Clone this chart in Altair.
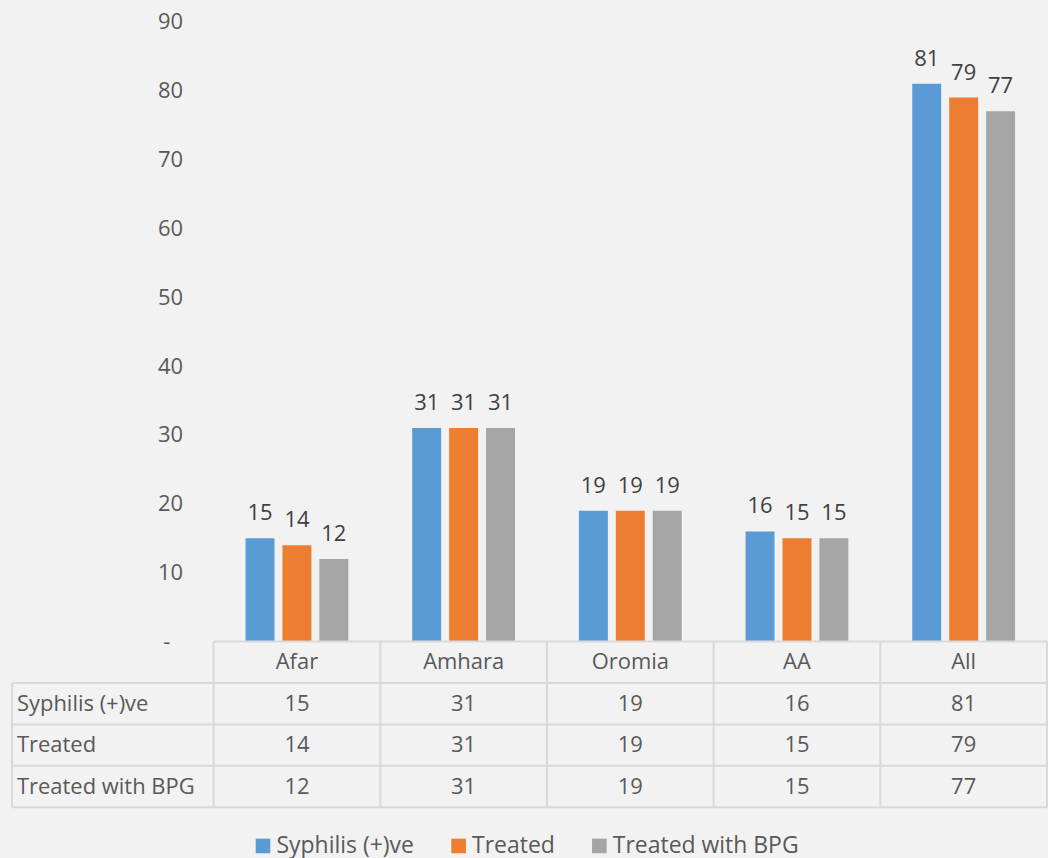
import altair as alt
import pandas as pd

categories = ["Afar", "Amhara", "Oromia", "AA", "All"]
series = ["Syphilis (+)ve", "Treated", "Treated with BPG"]
syphilis = [15, 31, 19, 16, 81]
treated = [14, 31, 19, 15, 79]
treated_bpg = [12, 31, 19, 15, 77]
colors = ["#5B9BD5", "#ED7D31", "#A5A5A5"]
y_ticks = [10, 20, 30, 40, 50, 60, 70, 80, 90]
zero_label = "-"

FONT = "Open Sans"
TXT = "#595959"
GRID = "#D9D9D9"

rows = []
for s, vals in zip(series, [syphilis, treated, treated_bpg]):
    for c, v in zip(categories, vals):
        rows.append({"category": c, "row": s, "value": v})
df = pd.DataFrame(rows)

header_df = pd.DataFrame({"category": categories, "row": ["header"] * len(categories)})
rowlab_df = pd.DataFrame({"row": series})
last_row_df = pd.DataFrame({"row": series[-1:]})
first_row_df = pd.DataFrame({"row": series[:1]})
top_df = pd.DataFrame({"row": ["header"]})
cat_df = pd.DataFrame({"category": categories})
end_df = pd.DataFrame({"category": categories[-1:]})
zero_df = pd.DataFrame({"value": [0], "label": [zero_label]})

x_scale = alt.Scale(domain=categories, paddingInner=0, paddingOuter=0)
row_scale = alt.Scale(domain=["header"] + series, paddingInner=0, paddingOuter=0)
color_scale = alt.Scale(domain=series, range=colors)
xoff_scale = alt.Scale(domain=series, paddingInner=0.216, paddingOuter=0.865)
y_scale = alt.Scale(domain=[0, 90], nice=False)

X = alt.X("category:N", scale=x_scale, axis=None)

bars = alt.Chart(df).mark_bar().encode(
    x=X,
    xOffset=alt.XOffset("row:N", scale=xoff_scale),
    y=alt.Y("value:Q", scale=y_scale,
            axis=alt.Axis(values=y_ticks, title=None, ticks=False, domain=False, grid=False,
                          labelPadding=31, labelFontSize=22, labelColor=TXT, labelFont=FONT)),
    color=alt.Color("row:N", scale=color_scale,
                    legend=alt.Legend(orient="none", legendX=38, legendY=814, direction="horizontal",
                                      title=None, symbolType="square", symbolSize=215,
                                      symbolStrokeWidth=0, labelFontSize=23, labelFont=FONT,
                                      labelColor=TXT, columnPadding=33, labelOffset=2,
                                      labelLimit=400)),
)
bar_labels = alt.Chart(df).mark_text(baseline="bottom", dy=-13, fontSize=22, color="#404040", font=FONT).encode(
    x=X,
    xOffset=alt.XOffset("row:N", scale=xoff_scale),
    y=alt.Y("value:Q", scale=y_scale),
    text="value:Q",
)
# zero tick label of the y axis ("-" as in accounting format), centred like the reference
zero_tick = alt.Chart(zero_df).mark_text(fontSize=22, color=TXT, font=FONT, align="center", baseline="middle").encode(
    x=alt.value(-47),
    y=alt.Y("value:Q", scale=y_scale),
    text="label:N",
)
top = alt.layer(bars, bar_labels, zero_tick).properties(width=835, height=621)

rule_style = dict(color=GRID, strokeWidth=2)
hlines = alt.Chart(rowlab_df).mark_rule(**rule_style).encode(
    y=alt.Y("row:N", scale=row_scale, axis=None, bandPosition=0),
    x=alt.value(-202), x2=alt.value("width"))
bottom_line = alt.Chart(last_row_df).mark_rule(**rule_style).encode(
    y=alt.Y("row:N", scale=row_scale, axis=None, bandPosition=1),
    x=alt.value(-202), x2=alt.value("width"))
top_line = alt.Chart(top_df).mark_rule(**rule_style).encode(
    y=alt.Y("row:N", scale=row_scale, axis=None, bandPosition=0),
    x=alt.value(0), x2=alt.value("width"))
vlines = alt.Chart(cat_df).mark_rule(**rule_style).encode(
    x=alt.X("category:N", scale=x_scale, axis=None, bandPosition=0),
    y=alt.value(0), y2=alt.value("height"))
end_line = alt.Chart(end_df).mark_rule(**rule_style).encode(
    x=alt.X("category:N", scale=x_scale, axis=None, bandPosition=1),
    y=alt.value(0), y2=alt.value("height"))
left_line = alt.Chart(first_row_df).mark_rule(**rule_style).encode(
    y=alt.Y("row:N", scale=row_scale, axis=None, bandPosition=0),
    y2=alt.value("height"), x=alt.value(-202))

header = alt.Chart(header_df).mark_text(fontSize=22, color=TXT, font=FONT).encode(
    x=X, y=alt.Y("row:N", scale=row_scale, axis=None), text="category:N")
values = alt.Chart(df).mark_text(fontSize=22, color=TXT, font=FONT).encode(
    x=X, y=alt.Y("row:N", scale=row_scale, axis=None), text="value:Q")
row_labels = alt.Chart(rowlab_df).mark_text(fontSize=22, color=TXT, font=FONT, align="left").encode(
    x=alt.value(-197), y=alt.Y("row:N", scale=row_scale, axis=None), text="row:N")

bottom = alt.layer(hlines, bottom_line, top_line, vlines, end_line, left_line,
                   header, values, row_labels).properties(width=835, height=166)

chart = alt.vconcat(top, bottom, spacing=0, bounds="flush").properties(
    padding={"left": 11, "top": 10, "right": 0, "bottom": 0}
).configure(background="#F2F2F2", font=FONT).configure_view(stroke=None)

chart.save("out.html", embed_options={"renderer": "svg", "actions": False})
